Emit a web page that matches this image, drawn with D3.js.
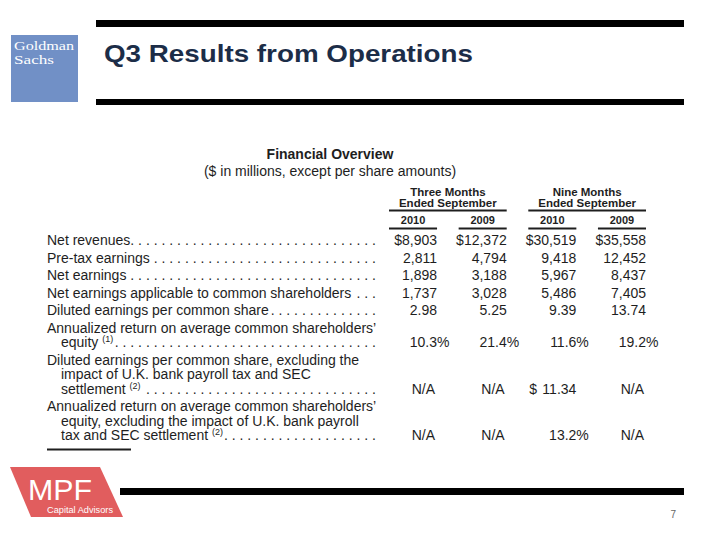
<!DOCTYPE html>
<html>
<head>
<meta charset="utf-8">
<script src="https://cdn.jsdelivr.net/npm/d3@7"></script>
<style>
  html, body { margin: 0; padding: 0; background: #fff; }
  svg { display: block; }
</style>
</head>
<body>
<div id="chart"></div>
<script>
// ---------------- data ----------------
const pageTitle = "Q3 Results from Operations";
const tableTitle = "Financial Overview";
const tableSubtitle = "($ in millions, except per share amounts)";
const periodGroups = ["Three Months", "Nine Months"];
const periodSubLabel = "Ended September";
const columnKeys = ["3m2010", "3m2009", "9m2010", "9m2009"];
const columnGroup = [0, 0, 1, 1];
const columnYears = ["2010", "2009", "2010", "2009"];

const rowLabels = [
  ["Net revenues"],
  ["Pre-tax earnings"],
  ["Net earnings"],
  ["Net earnings applicable to common shareholders"],
  ["Diluted earnings per common share"],
  ["Annualized return on average common shareholders’", "equity"],
  ["Diluted earnings per common share, excluding the", "impact of U.K. bank payroll tax and SEC", "settlement"],
  ["Annualized return on average common shareholders’", "equity, excluding the impact of U.K. bank payroll", "tax and SEC settlement"]
];
const rowNotes = [null, null, null, null, null, "(1)", "(2)", "(2)"];
const rowFormats = ["$int", "int", "int", "int", "eps", "pct", "$eps", "pct"];

const threeMonths2010 = [8903, 2811, 1898, 1737, 2.98, 10.3, null, null];
const threeMonths2009 = [12372, 4794, 3188, 3028, 5.25, 21.4, null, null];
const nineMonths2010  = [30519, 9418, 5967, 5486, 9.39, 11.6, 11.34, 13.2];
const nineMonths2009  = [35558, 12452, 8437, 7405, 13.74, 19.2, null, null];
const columnValues = [threeMonths2010, threeMonths2009, nineMonths2010, nineMonths2009];

const pageNumber = "7";

// ---------------- drawing ----------------
const W = 720, H = 540;
const FONT = "'Liberation Sans', Arial, Helvetica, sans-serif";
const INK = "#1e1e1e";

const svg = d3.select("#chart").append("svg")
  .attr("width", W).attr("height", H)
  .style("font-family", FONT);

svg.append("rect").attr("width", W).attr("height", H).attr("fill", "#fff");

// header bars
svg.append("rect").attr("x", 96).attr("y", 20).attr("width", 588).attr("height", 7).attr("fill", "#000");
svg.append("rect").attr("x", 96).attr("y", 99).attr("width", 588).attr("height", 6).attr("fill", "#000");

// Goldman Sachs logo
const gs = svg.append("g");
gs.append("rect").attr("x", 11).attr("y", 35).attr("width", 67).attr("height", 67).attr("fill", "#7190c6");
gs.append("text").attr("x", 14).attr("y", 50).text("Goldman")
  .attr("fill", "#fff").attr("font-family", "'Liberation Serif', 'DejaVu Serif', serif")
  .attr("font-size", 12.5).attr("textLength", 60).attr("lengthAdjust", "spacingAndGlyphs");
gs.append("text").attr("x", 14).attr("y", 64).text("Sachs")
  .attr("fill", "#fff").attr("font-family", "'Liberation Serif', 'DejaVu Serif', serif")
  .attr("font-size", 12.5).attr("textLength", 40).attr("lengthAdjust", "spacingAndGlyphs");

// page title
svg.append("text").attr("x", 104).attr("y", 62).text(pageTitle)
  .attr("fill", "#1c2d48").attr("font-weight", "bold").attr("font-size", 24)
  .attr("textLength", 369).attr("lengthAdjust", "spacingAndGlyphs");

// table titles
const centerX = 330;
svg.append("text").attr("x", centerX).attr("y", 159).attr("text-anchor", "middle")
  .attr("font-weight", "bold").attr("font-size", 14).attr("fill", INK).text(tableTitle);
svg.append("text").attr("x", centerX).attr("y", 176).attr("text-anchor", "middle")
  .attr("font-size", 14).attr("fill", INK).text(tableSubtitle);

// column scale
const x = d3.scaleBand().domain(columnKeys).range([389, 646]).paddingInner(0.31).paddingOuter(0);
const bw = x.bandwidth();

// group headers
periodGroups.forEach((g, gi) => {
  const keys = columnKeys.filter((k, i) => columnGroup[i] === gi);
  const x0 = x(keys[0]), x1 = x(keys[keys.length - 1]) + bw;
  const cx = (x0 + x1) / 2;
  svg.append("text").attr("x", cx).attr("y", 196).attr("text-anchor", "middle")
    .attr("font-weight", "bold").attr("font-size", 11.5).attr("fill", INK).text(g);
  svg.append("text").attr("x", cx).attr("y", 206.5).attr("text-anchor", "middle")
    .attr("font-weight", "bold").attr("font-size", 11.5).attr("fill", INK).text(periodSubLabel);
  svg.append("line").attr("x1", x0).attr("x2", x1).attr("y1", 210.5).attr("y2", 210.5)
    .attr("stroke", INK).attr("stroke-width", 2);
});

// year headers
columnKeys.forEach((k, i) => {
  svg.append("text").attr("x", x(k) + bw / 2).attr("y", 223.5).attr("text-anchor", "middle")
    .attr("font-weight", "bold").attr("font-size", 11).attr("fill", INK).text(columnYears[i]);
  svg.append("line").attr("x1", x(k)).attr("x2", x(k) + bw).attr("y1", 228.5).attr("y2", 228.5)
    .attr("stroke", INK).attr("stroke-width", 2);
});

// rows
const labelX = 47, indent = 14, lineGap = 14.5, rowGap = 17.5, firstBaseline = 245;
const dotRight = 376, dotStep = 7.8;
let yCursor = firstBaseline;
const fmtInt = d3.format(","), fmt2 = d3.format(".2f"), fmt1 = d3.format(".1f");

rowLabels.forEach((lines, r) => {
  let lastBaseline = yCursor;
  let lastEnd = 0;
  lines.forEach((ln, li) => {
    const by = yCursor + li * lineGap;
    const t = svg.append("text").attr("x", labelX + (li > 0 ? indent : 0)).attr("y", by)
      .attr("font-size", 14).attr("fill", INK).text(ln);
    let end = labelX + (li > 0 ? indent : 0) + t.node().getComputedTextLength();
    if (li === lines.length - 1 && rowNotes[r]) {
      const n = svg.append("text").attr("x", end + 4).attr("y", by - 5)
        .attr("font-size", 9).attr("fill", INK).text(rowNotes[r]);
      end = end + 4 + n.node().getComputedTextLength();
    }
    lastBaseline = by;
    lastEnd = end;
  });
  // leader dots
  const dots = [];
  for (let dx = dotRight; dx > lastEnd + 2.5; dx -= dotStep) dots.push(dx);
  svg.append("g").selectAll("text").data(dots).join("text")
    .attr("x", d => d).attr("y", lastBaseline).attr("text-anchor", "end")
    .attr("font-size", 14).attr("fill", INK).text(".");

  // values
  columnKeys.forEach((k, ci) => {
    const v = columnValues[ci][r];
    const right = x(k) + bw, left = x(k);
    const f = rowFormats[r];
    const addText = (tx, xx, anchor) => svg.append("text").attr("x", xx).attr("y", lastBaseline)
      .attr("text-anchor", anchor).attr("font-size", 14).attr("fill", INK).text(tx);
    if (v === null) { addText("N/A", right - 2, "end"); return; }
    if (f === "$int") addText("$" + fmtInt(v), right, "end");
    else if (f === "int") addText(fmtInt(v), right, "end");
    else if (f === "eps") addText(fmt2(v), right, "end");
    else if (f === "pct") { addText(fmt1(v), right, "end"); addText("%", right, "start"); }
    else if (f === "$eps") { addText("$", left + 1, "start"); addText(fmt2(v), right, "end"); }
  });

  yCursor = lastBaseline + rowGap;
});

// footnote rule
svg.append("line").attr("x1", 47).attr("x2", 131).attr("y1", 449.5).attr("y2", 449.5)
  .attr("stroke", INK).attr("stroke-width", 2);

// footer bar
svg.append("rect").attr("x", 120).attr("y", 488).attr("width", 564).attr("height", 7).attr("fill", "#000");

// MPF logo
const mpf = svg.append("g");
mpf.append("path").attr("d", "M10,467 L100,467 L123,517 L31,517 Z").attr("fill", "#e15d5e");
mpf.append("text").attr("x", 28).attr("y", 500).text("MPF")
  .attr("fill", "#fff").attr("font-size", 30).attr("textLength", 64).attr("lengthAdjust", "spacingAndGlyphs");
mpf.append("text").attr("x", 47).attr("y", 513).text("Capital Advisors")
  .attr("fill", "#fff").attr("font-size", 9).attr("textLength", 66).attr("lengthAdjust", "spacingAndGlyphs");

// page number
svg.append("text").attr("x", 676).attr("y", 518).attr("text-anchor", "end")
  .attr("font-size", 10).attr("fill", "#666").text(pageNumber);
</script>
</body>
</html>
